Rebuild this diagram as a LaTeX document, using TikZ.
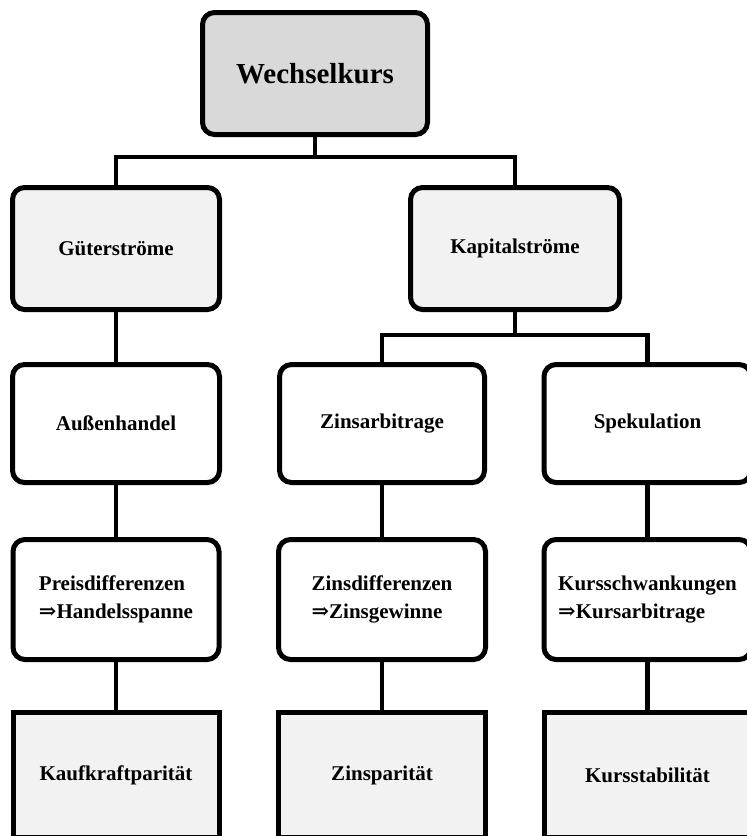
\documentclass[tikz,border=0pt]{standalone}
\usepackage{fontspec}
\setmainfont{Liberation Serif}
\newfontfamily\arrowfont{DejaVu Serif}
\definecolor{topfill}{HTML}{D9D9D9}
\definecolor{lightfill}{HTML}{F2F2F2}
\newcommand{\impl}{{\arrowfont\bfseries ⇒}}
\tikzset{
  box/.style={draw=black, line width=5pt, rounded corners=12pt, inner sep=0pt,
    align=left, font=\bfseries\fontsize{21}{28}\selectfont},
  sqbox/.style={draw=black, line width=5pt, sharp corners, inner sep=0pt, fill=lightfill,
    align=center, font=\bfseries\fontsize{21}{28}\selectfont},
  conn/.style={line width=4.8pt, line join=miter}
}
\begin{document}
\begin{tikzpicture}[x=1pt,y=-1pt]
\useasboundingbox (0,0) rectangle (747,836);
% row 1
\node[box, fill=topfill, minimum width=225pt, minimum height=122pt,
  font=\bfseries\fontsize{29}{33}\selectfont] (W) at (315,73.5) {Wechselkurs};
% row 2
\node[box, fill=lightfill, minimum width=207pt, minimum height=122pt] (G) at (116,248.5) {Güterströme};
\node[box, fill=lightfill, minimum width=209pt, minimum height=122pt] (K) at (515,248.5) {Kapitalströme};
% row 3
\node[box, fill=white, minimum width=207pt, minimum height=118pt] (A) at (116,423.5) {Außenhandel};
\node[box, fill=white, minimum width=205pt, minimum height=118pt] (Z) at (382,423.5) {Zinsarbitrage};
\node[box, fill=white, minimum width=207pt, minimum height=118pt] (S) at (647.5,423.5) {Spekulation};
% row 4
\node[box, fill=white, minimum width=206pt, minimum height=120pt] (P) at (116,599.5) {Preisdifferenzen\\\impl Handelsspanne};
\node[box, fill=white, minimum width=207pt, minimum height=120pt] (ZD) at (382,599.5) {Zinsdifferenzen\\\impl Zinsgewinne};
\node[box, fill=white, minimum width=207pt, minimum height=120pt] (KS) at (647.5,599.5) {Kursschwankungen\\\impl Kursarbitrage};
% row 5
\node[sqbox, minimum width=206pt, minimum height=125pt] (KP) at (116,775) {Kaufkraftparität};
\node[sqbox, minimum width=207pt, minimum height=125pt] (ZP) at (382,775) {Zinsparität};
\node[sqbox, minimum width=207pt, minimum height=125pt] (KST) at (647.5,775) {Kursstabilität};
% junctions
\coordinate (j1) at (315,157);
\coordinate (j2) at (515,335);
% connectors
\draw[conn] (W.south) -- (j1);
\draw[conn] (G.north) |- (j1) -| (K.north);
\draw[conn] (K.south) -- (j2);
\draw[conn] (Z.north) |- (j2) -| (S.north);
\draw[conn] (G.south) -- (A.north);
\draw[conn] (A.south) -- (P.north);
\draw[conn] (Z.south) -- (ZD.north);
\draw[conn] (S.south) -- (KS.north);
\draw[conn] (P.south) -- (KP.north);
\draw[conn] (ZD.south) -- (ZP.north);
\draw[conn] (KS.south) -- (KST.north);
\end{tikzpicture}
\end{document}
